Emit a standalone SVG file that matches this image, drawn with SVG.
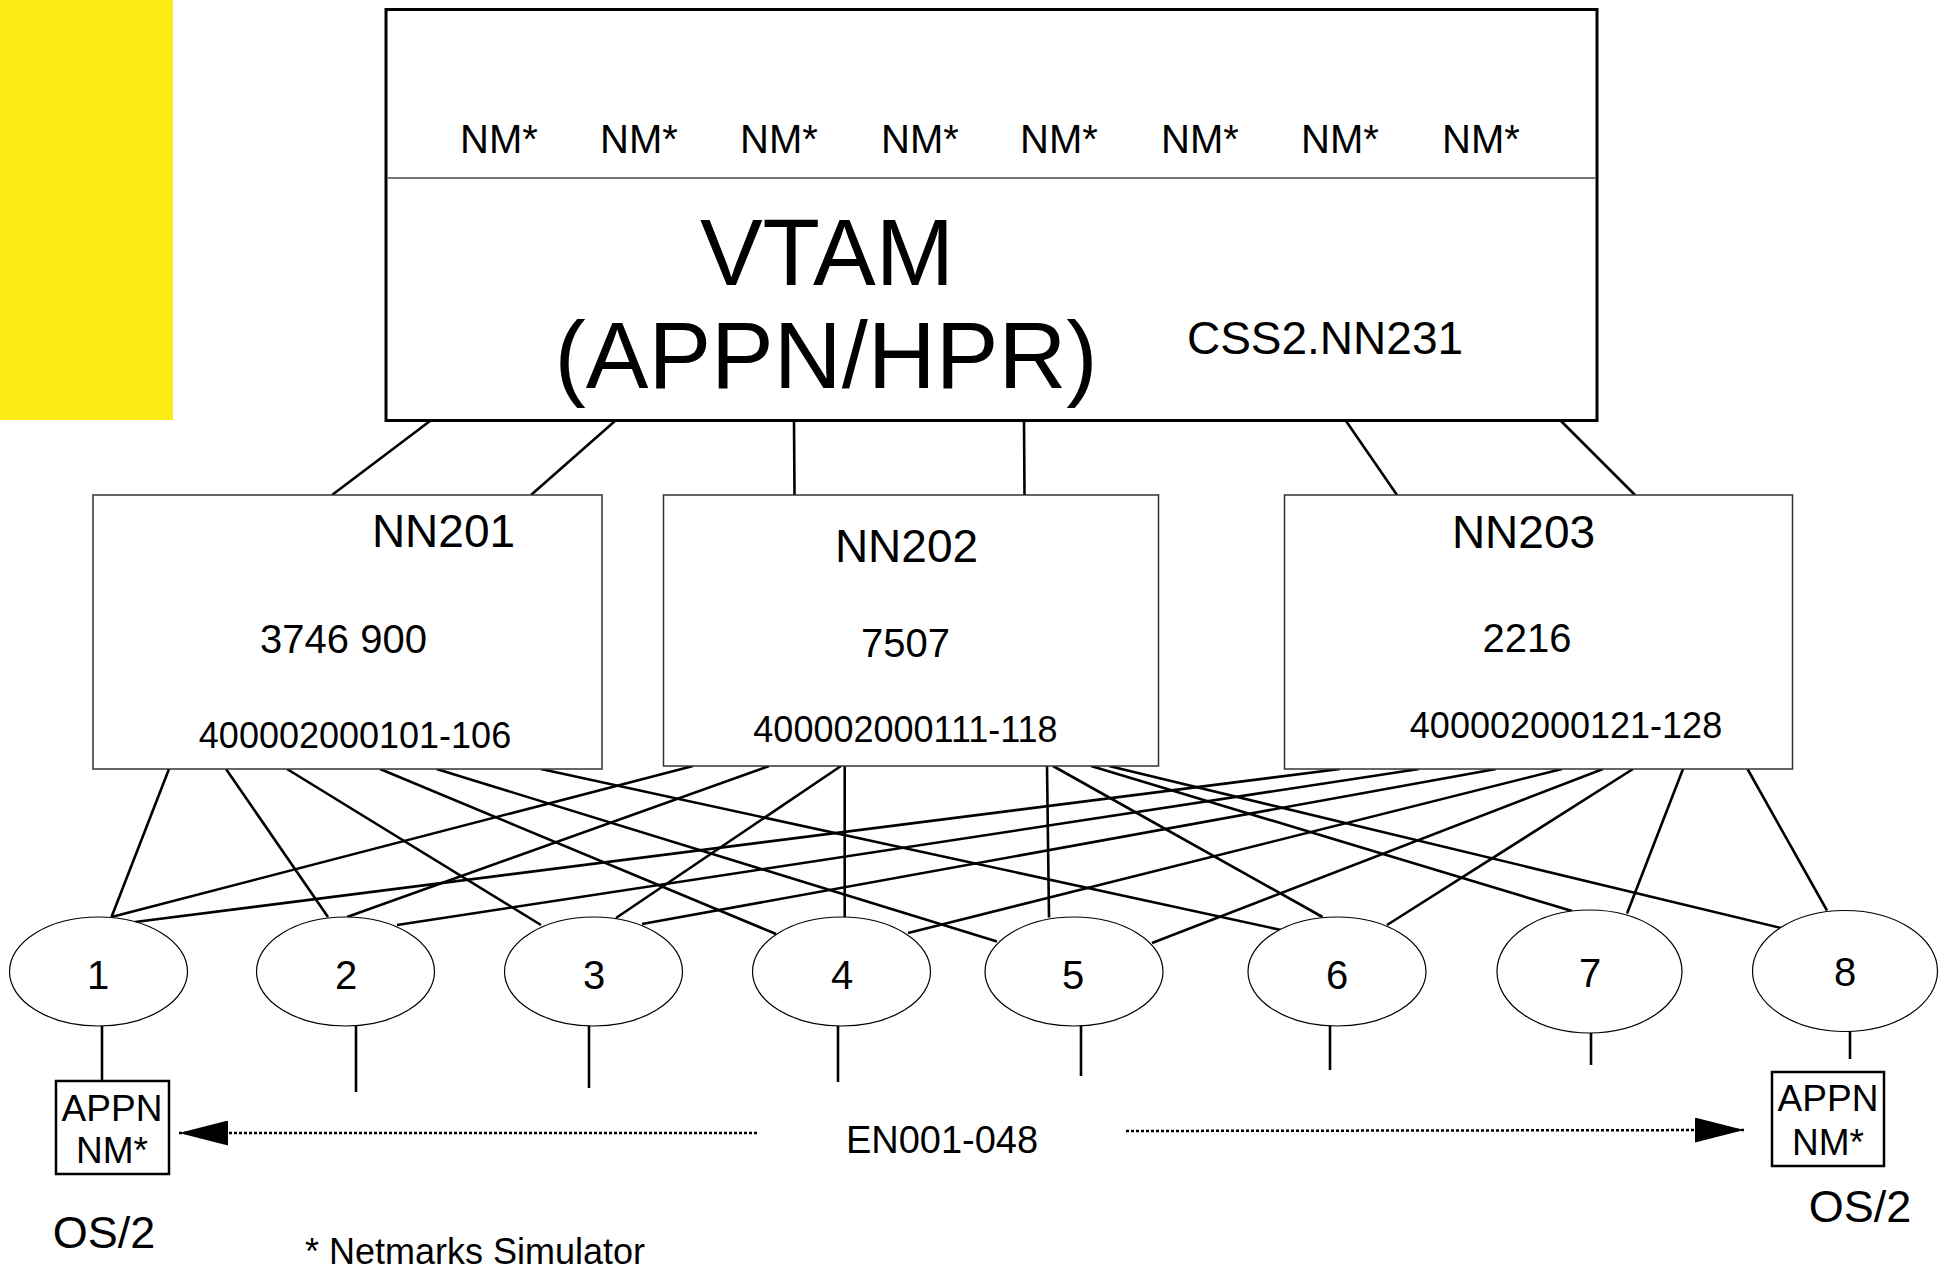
<svg xmlns="http://www.w3.org/2000/svg" width="1942" height="1269" viewBox="0 0 1942 1269">
<defs>
<style>
text{font-family:"Liberation Sans",Arial,sans-serif;fill:#000}
.nm{font-size:40px}
.big{font-size:94px;text-anchor:middle}
.mid{font-size:46px;text-anchor:middle}
.num{font-size:40px;text-anchor:middle}
.addr{font-size:36px;text-anchor:middle}
.box{fill:#fff;stroke:#333;stroke-width:1.5}
.ell{fill:#fff;stroke:#000;stroke-width:1.2}
.lbl{font-size:40px;text-anchor:middle}
.appn{fill:#fff;stroke:#000;stroke-width:2.5}
.appnt{font-size:37px;text-anchor:middle}
.os{font-size:45px;text-anchor:middle}
.conn line{stroke:#000;stroke-width:2.6}
.stub{stroke:#000;stroke-width:2.6}
.dot{stroke:#000;stroke-width:2.5;stroke-dasharray:3 2;fill:none}
</style>
<marker id="ah" viewBox="0 0 49 25" refX="49" refY="12.5" markerWidth="49" markerHeight="25" markerUnits="userSpaceOnUse" orient="auto">
<path d="M0,0 L49,12.5 L0,25 Z" fill="#000"/>
</marker>
</defs>
<rect x="0" y="0" width="1942" height="1269" fill="#fff"/>
<rect id="yellow" x="0" y="0" width="173" height="420" fill="#FFEB14"/>

<g id="connectors" class="conn">
<!-- VTAM to NN -->
<line x1="430" y1="421" x2="332" y2="495"/>
<line x1="615" y1="421" x2="531" y2="495"/>
<line x1="794" y1="421" x2="794.5" y2="495"/>
<line x1="1024" y1="421" x2="1024.5" y2="495"/>
<line x1="1346" y1="421" x2="1397" y2="495"/>
<line x1="1561" y1="421" x2="1635" y2="495"/>
<!-- NN201 -->
<line x1="169" y1="769" x2="111.5" y2="917"/>
<line x1="226" y1="769" x2="328" y2="917"/>
<line x1="287" y1="769" x2="541" y2="925"/>
<line x1="380" y1="769" x2="776" y2="934"/>
<line x1="436.5" y1="769" x2="997" y2="941.5"/>
<line x1="541" y1="769" x2="1281" y2="930"/>
<!-- NN202 -->
<line x1="693" y1="766" x2="111.5" y2="917"/>
<line x1="769" y1="766" x2="347" y2="917"/>
<line x1="841" y1="766" x2="616" y2="918"/>
<line x1="844.7" y1="766" x2="844.7" y2="917"/>
<line x1="1047" y1="766" x2="1049" y2="917.5"/>
<line x1="1053" y1="766" x2="1322.5" y2="917"/>
<line x1="1091" y1="766" x2="1572" y2="911"/>
<line x1="1109" y1="766" x2="1781" y2="928"/>
<!-- NN203 -->
<line x1="1340" y1="769" x2="135" y2="922"/>
<line x1="1419" y1="769" x2="397" y2="925"/>
<line x1="1496" y1="769" x2="642" y2="924"/>
<line x1="1562" y1="769" x2="908" y2="933"/>
<line x1="1603" y1="769" x2="1152" y2="943"/>
<line x1="1633" y1="769" x2="1387" y2="925"/>
<line x1="1683" y1="769" x2="1627" y2="913.5"/>
<line x1="1747.5" y1="769" x2="1827" y2="910.5"/>
<!-- stubs -->
<line class="stub" x1="102" y1="1026" x2="102" y2="1082"/>
<line class="stub" x1="356" y1="1026" x2="356" y2="1092"/>
<line class="stub" x1="589" y1="1026" x2="589" y2="1088"/>
<line class="stub" x1="838" y1="1026" x2="838" y2="1082"/>
<line class="stub" x1="1081" y1="1026" x2="1081" y2="1076"/>
<line class="stub" x1="1330" y1="1026" x2="1330" y2="1070"/>
<line class="stub" x1="1591" y1="1033" x2="1591" y2="1065"/>
<line class="stub" x1="1850" y1="1031" x2="1850" y2="1059"/>
<!-- dotted arrows -->
<path class="dot" d="M757,1133 L179,1133" marker-end="url(#ah)"/>
<path class="dot" d="M1126,1131 L1744,1130" marker-end="url(#ah)"/>
</g>

<g id="vtam">
<rect x="386" y="9.5" width="1211" height="411" fill="#fff" stroke="#000" stroke-width="3"/>
<line x1="388" y1="178" x2="1596" y2="178" stroke="#777" stroke-width="2"/>
<text class="nm" x="460" y="153">NM*</text>
<text class="nm" x="600" y="153">NM*</text>
<text class="nm" x="740" y="153">NM*</text>
<text class="nm" x="881" y="153">NM*</text>
<text class="nm" x="1020" y="153">NM*</text>
<text class="nm" x="1161" y="153">NM*</text>
<text class="nm" x="1301" y="153">NM*</text>
<text class="nm" x="1442" y="153">NM*</text>
<text class="big" x="827" y="285">VTAM</text>
<text class="big" x="826" y="388">(APPN/HPR)</text>
<text class="mid" x="1325" y="354">CSS2.NN231</text>
</g>

<g id="nn201">
<rect class="box" x="93" y="495" width="509" height="274"/>
<text class="mid" x="443.5" y="547">NN201</text>
<text class="num" x="343.5" y="653">3746 900</text>
<text class="addr" x="355" y="748">400002000101-106</text>
</g>
<g id="nn202">
<rect class="box" x="663.5" y="495" width="495" height="271"/>
<text class="mid" x="906.5" y="562">NN202</text>
<text class="num" x="905.5" y="657">7507</text>
<text class="addr" x="905.5" y="742">400002000111-118</text>
</g>
<g id="nn203">
<rect class="box" x="1284.5" y="495" width="508" height="274"/>
<text class="mid" x="1523.5" y="548">NN203</text>
<text class="num" x="1527" y="652">2216</text>
<text class="addr" x="1566" y="738">400002000121-128</text>
</g>

<g id="en1"><ellipse class="ell" cx="98.5" cy="971.5" rx="89" ry="54.5"/><text class="lbl" x="98" y="989">1</text></g>
<g id="en2"><ellipse class="ell" cx="345.5" cy="971.5" rx="89" ry="54.5"/><text class="lbl" x="346" y="989">2</text></g>
<g id="en3"><ellipse class="ell" cx="593.5" cy="971.5" rx="89" ry="54.5"/><text class="lbl" x="594" y="989">3</text></g>
<g id="en4"><ellipse class="ell" cx="841.5" cy="971.5" rx="89" ry="54.5"/><text class="lbl" x="842" y="989">4</text></g>
<g id="en5"><ellipse class="ell" cx="1074" cy="971.5" rx="89" ry="54.5"/><text class="lbl" x="1073" y="989">5</text></g>
<g id="en6"><ellipse class="ell" cx="1337" cy="971.5" rx="89" ry="54.5"/><text class="lbl" x="1337" y="989">6</text></g>
<g id="en7"><ellipse class="ell" cx="1589.5" cy="971.5" rx="92.5" ry="61.5"/><text class="lbl" x="1590" y="987">7</text></g>
<g id="en8"><ellipse class="ell" cx="1845" cy="971" rx="92.5" ry="60.5"/><text class="lbl" x="1845" y="986">8</text></g>

<g id="appn-left">
<rect class="appn" x="56" y="1081" width="113" height="93"/>
<text class="appnt" x="112" y="1121">APPN</text>
<text class="appnt" x="112" y="1163">NM*</text>
</g>
<g id="appn-right">
<rect class="appn" x="1772" y="1072" width="112" height="94"/>
<text class="appnt" x="1828" y="1111">APPN</text>
<text class="appnt" x="1828" y="1155">NM*</text>
</g>

<text class="os" x="104" y="1248">OS/2</text>
<text class="os" x="1860" y="1222">OS/2</text>
<text x="942" y="1153" style="font-size:38px;text-anchor:middle">EN001-048</text>
<text x="305" y="1264" style="font-size:36px">* Netmarks Simulator</text>
</svg>
